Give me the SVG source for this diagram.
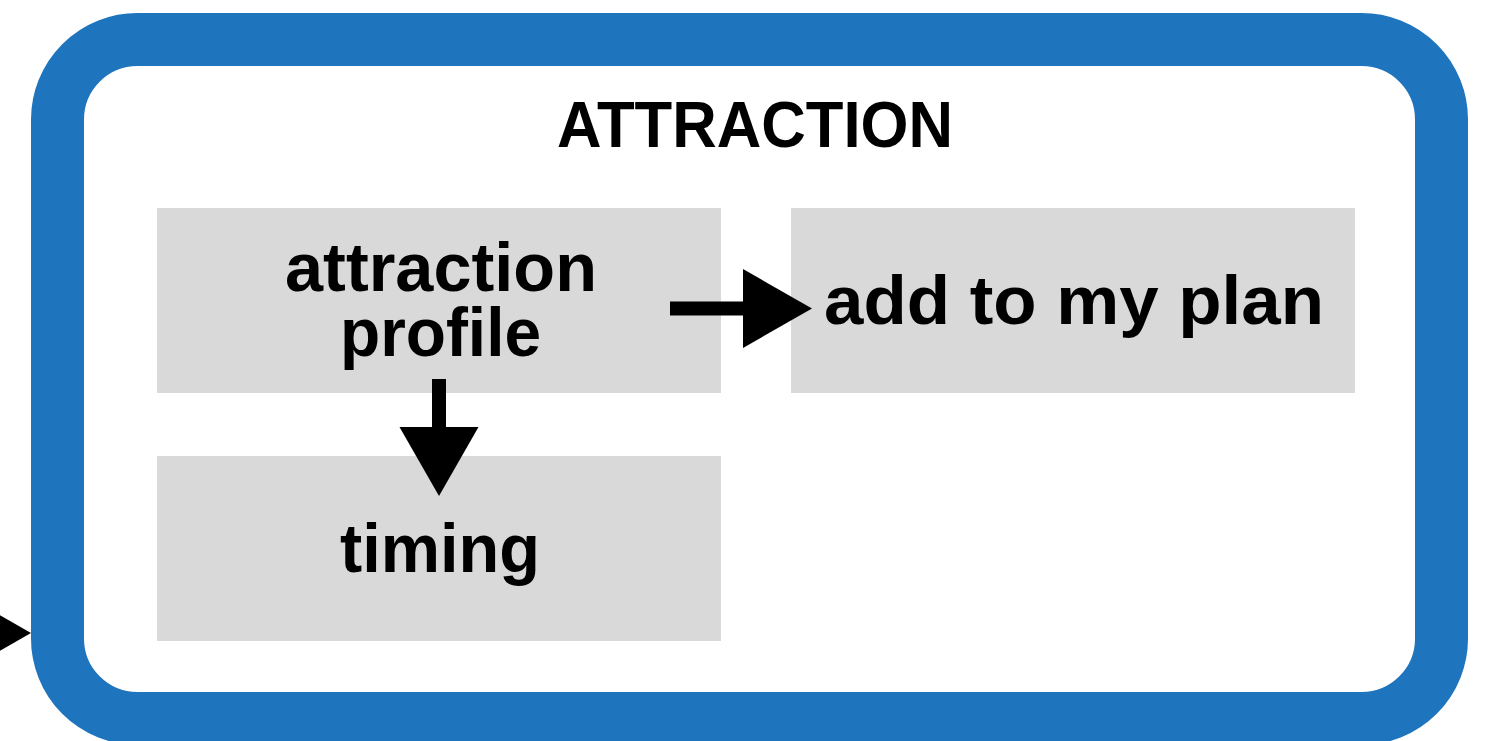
<svg xmlns="http://www.w3.org/2000/svg" width="1487" height="741" viewBox="0 0 1487 741">
  <style>
    .box { fill: #D9D9D9; }
    .lbl { font-family: "Liberation Sans", Arial, sans-serif; font-weight: bold; font-size: 68px; fill: #000; text-anchor: middle; }
    .title { font-size: 64px; }
    .conn { stroke: #000; stroke-width: 14; fill: none; marker-end: url(#head); }
  </style>
  <defs>
    <marker id="head" markerUnits="userSpaceOnUse" markerWidth="70" markerHeight="80" refX="0" refY="39.5" orient="auto" viewBox="0 0 70 80">
      <path d="M0,0 L69,39.5 L0,79 Z" fill="#000"/>
    </marker>
  </defs>
  <rect width="1487" height="741" fill="#fff"/>
  <g id="attraction-frame">
    <rect x="57.5" y="39.5" width="1384" height="679" rx="80" ry="80" fill="#fff" stroke="#1E74BD" stroke-width="53"/>
    <text class="lbl title" x="755" y="147" textLength="396" lengthAdjust="spacingAndGlyphs">ATTRACTION</text>
  </g>
  <g id="attraction-profile">
    <rect class="box" x="157" y="208" width="564" height="185"/>
    <text class="lbl" x="441" y="291" textLength="312" lengthAdjust="spacingAndGlyphs">attraction</text>
    <text class="lbl" x="440.5" y="356" textLength="201" lengthAdjust="spacingAndGlyphs">profile</text>
  </g>
  <g id="add-to-my-plan">
    <rect class="box" x="791" y="208" width="564" height="185"/>
    <text class="lbl" x="1074" y="324" textLength="500" lengthAdjust="spacingAndGlyphs">add to my plan</text>
  </g>
  <g id="timing">
    <rect class="box" x="157" y="456" width="564" height="185"/>
    <text class="lbl" x="440" y="572" textLength="200" lengthAdjust="spacingAndGlyphs">timing</text>
  </g>
  <g id="connectors">
    <line class="conn" x1="670" y1="308.5" x2="743" y2="308.5"/>
    <line class="conn" x1="439" y1="379" x2="439" y2="427"/>
    <line class="conn" x1="-120" y1="633" x2="-38" y2="633"/>
  </g>
</svg>
